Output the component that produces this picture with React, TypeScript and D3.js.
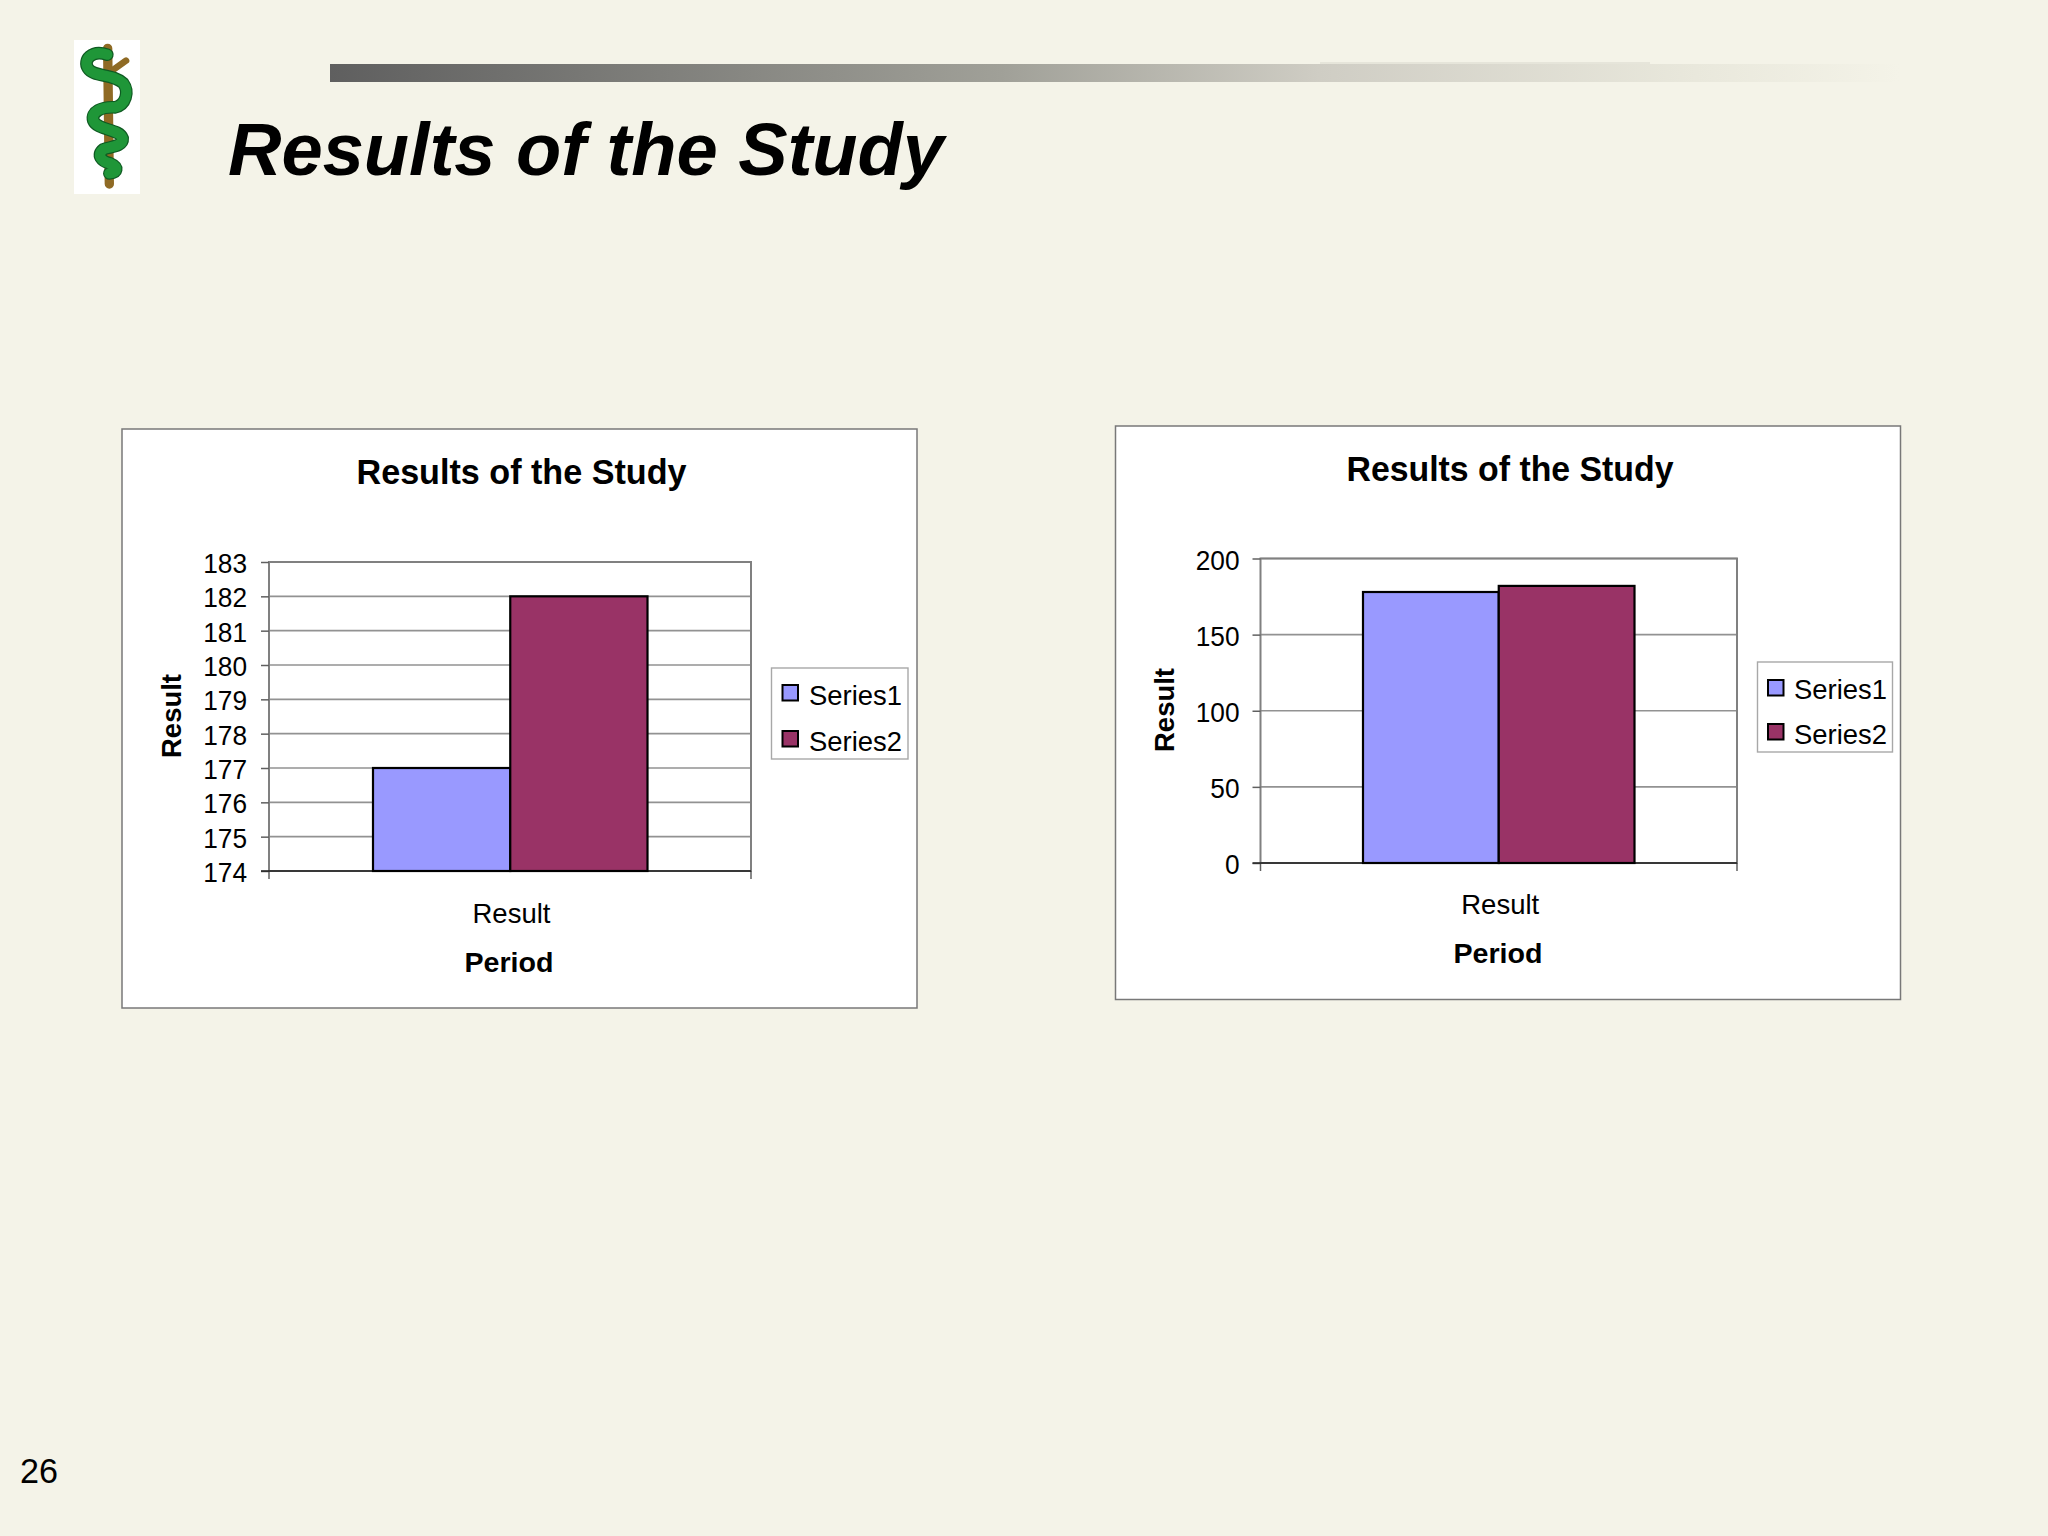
import * as d3 from "d3";
import React, { useEffect, useRef } from "react";

const seriesNames = ["Series1", "Series2"];
const seriesColors = ["#9999ff", "#993366"];
const categories = ["Result"];

const leftValues = [177, 182];
const leftTicks = [174, 175, 176, 177, 178, 179, 180, 181, 182, 183];

const rightValues = [178, 182];
const rightTicks = [0, 50, 100, 150, 200];

const slideTitle = "Results of the Study";
const chartTitle = "Results of the Study";
const xTitle = "Period";
const yTitle = "Result";
const pageNumber = "26";

const bgColor = "#f4f3e8";
const font = "'Liberation Sans', Arial, sans-serif";

// layout of the two embedded charts, in page pixels
const leftLayout = {
  box: [122, 429, 917, 1008],
  plot: [269, 562, 751, 871],
  barLeft: 373,
  barRight: 647.5,
  tickLabelX: 247,
  titleX: 521.5,
  titleY: 484,
  titleWidth: 330,
  yTitleX: 180.5,
  yTitleY: 716,
  catY: 922.5,
  xTitleX: 509,
  xTitleY: 972,
  legend: [771.5, 668, 908, 759],
  swatchX: 782.5,
  swatchY: [685, 731],
  legendTextX: 809,
  legendTextY: [705, 750.5],
};
const rightLayout = {
  box: [1115.5, 426, 1900.5, 999.5],
  plot: [1260.5, 558.5, 1737, 863],
  barLeft: 1363,
  barRight: 1634.5,
  tickLabelX: 1239.5,
  titleX: 1510,
  titleY: 481,
  titleWidth: 327,
  yTitleX: 1173.5,
  yTitleY: 710,
  catY: 914,
  xTitleX: 1498,
  xTitleY: 963,
  legend: [1757.5, 662, 1892.5, 752],
  swatchX: 1768,
  swatchY: [680, 724],
  legendTextX: 1794,
  legendTextY: [699, 743.5],
};

const drawChart = (root, values, ticks, layout) => {
  const g = root.append("g");
  const [bx0, by0, bx1, by1] = layout.box;
  const [px0, py0, px1, py1] = layout.plot;

  g.append("rect")
    .attr("x", bx0)
    .attr("y", by0)
    .attr("width", bx1 - bx0)
    .attr("height", by1 - by0)
    .attr("fill", "#ffffff")
    .attr("stroke", "#787878")
    .attr("stroke-width", 1.5);

  const y = d3
    .scaleLinear()
    .domain([ticks[0], ticks[ticks.length - 1]])
    .range([py1, py0]);

  const x = d3.scaleBand().domain(categories).range([px0, px1]);

  const inner = d3
    .scaleBand()
    .domain(seriesNames)
    .range([layout.barLeft, layout.barRight]);

  // gridlines
  g.append("g")
    .selectAll("line")
    .data(ticks)
    .join("line")
    .attr("x1", px0)
    .attr("x2", px1)
    .attr("y1", (d) => y(d))
    .attr("y2", (d) => y(d))
    .attr("stroke", "#929292")
    .attr("stroke-width", 1.7);

  // plot frame
  g.append("rect")
    .attr("x", px0)
    .attr("y", py0)
    .attr("width", px1 - px0)
    .attr("height", py1 - py0)
    .attr("fill", "none")
    .attr("stroke", "#808080")
    .attr("stroke-width", 2);

  // y axis
  const yAxis = g
    .append("g")
    .attr("transform", `translate(${px0}, 0)`)
    .call(
      d3
        .axisLeft(y)
        .tickValues(ticks)
        .tickSize(8)
        .tickFormat((d) => String(d))
    );
  yAxis.selectAll("path, line").attr("stroke", "#606060").attr("stroke-width", 1.5);
  yAxis.select(".domain").remove();
  yAxis
    .selectAll("text")
    .attr("x", layout.tickLabelX - px0)
    .attr("dy", "10.5px")
    .attr("font-family", font)
    .attr("font-size", 28)
    .attr("fill", "#000")
    .attr("lengthAdjust", "spacingAndGlyphs")
    .attr("textLength", (d) => String(d).length * 14.6);

  // x axis
  const xAxis = g
    .append("g")
    .attr("transform", `translate(0, ${py1})`)
    .call(d3.axisBottom(x).tickSize(0).tickFormat(""));
  xAxis.selectAll("text").remove();
  xAxis.select(".domain").remove();
  g.append("g")
    .selectAll("line")
    .data([px0, px1])
    .join("line")
    .attr("x1", (d) => d)
    .attr("x2", (d) => d)
    .attr("y1", py1)
    .attr("y2", py1 + 8)
    .attr("stroke", "#606060")
    .attr("stroke-width", 1.5);
  g.append("line")
    .attr("x1", px0 - 8)
    .attr("x2", px1)
    .attr("y1", py1)
    .attr("y2", py1)
    .attr("stroke", "#202020")
    .attr("stroke-width", 1.6);

  // bars
  g.append("g")
    .selectAll("rect")
    .data(values)
    .join("rect")
    .attr("x", (d, i) => inner(seriesNames[i]))
    .attr("y", (d) => y(d))
    .attr("width", inner.bandwidth())
    .attr("height", (d) => py1 - y(d))
    .attr("fill", (d, i) => seriesColors[i])
    .attr("stroke", "#000")
    .attr("stroke-width", 2.2);

  const label = (text, px, py, size, weight, width) =>
    g
      .append("text")
      .attr("x", px)
      .attr("y", py)
      .attr("text-anchor", "middle")
      .attr("font-family", font)
      .attr("font-size", size)
      .attr("font-weight", weight)
      .attr("fill", "#000")
      .attr("lengthAdjust", "spacingAndGlyphs")
      .attr("textLength", width)
      .text(text);

  label(chartTitle, layout.titleX, layout.titleY, 35, "bold", layout.titleWidth);
  label(categories[0], x(categories[0]) + x.bandwidth() / 2 + 1.5, layout.catY, 28, "normal", 78);
  label(xTitle, layout.xTitleX, layout.xTitleY, 28, "bold", 89);
  label(yTitle, 0, 0, 27.5, "bold", 84).attr(
    "transform",
    `translate(${layout.yTitleX}, ${layout.yTitleY}) rotate(-90)`
  );

  // legend
  const [lx0, ly0, lx1, ly1] = layout.legend;
  g.append("rect")
    .attr("x", lx0)
    .attr("y", ly0)
    .attr("width", lx1 - lx0)
    .attr("height", ly1 - ly0)
    .attr("fill", "#ffffff")
    .attr("stroke", "#a8a8a8")
    .attr("stroke-width", 1.4);
  const items = g
    .append("g")
    .selectAll("g")
    .data(seriesNames)
    .join("g");
  items
    .append("rect")
    .attr("x", layout.swatchX)
    .attr("y", (d, i) => layout.swatchY[i])
    .attr("width", 15.5)
    .attr("height", 15.5)
    .attr("fill", (d, i) => seriesColors[i])
    .attr("stroke", "#000")
    .attr("stroke-width", 2);
  items
    .append("text")
    .attr("x", layout.legendTextX)
    .attr("y", (d, i) => layout.legendTextY[i])
    .attr("font-family", font)
    .attr("font-size", 28)
    .attr("fill", "#000")
    .attr("lengthAdjust", "spacingAndGlyphs")
    .attr("textLength", 93)
    .text((d) => d);
};

const drawLogo = (root) => {
  const logo = root.append("g");
  logo
    .append("rect")
    .attr("x", 74)
    .attr("y", 40)
    .attr("width", 66)
    .attr("height", 154)
    .attr("fill", "#ffffff");

  const art = logo.append("g").attr("transform", "translate(60, 30) scale(0.3333)");
  const staff = "M143,55 L148,462";
  const branch = "M152,125 L198,92";
  const snake =
    "M142,74 C95,58 68,90 84,115 C100,142 160,130 190,160 C208,185 198,225 165,232 C125,230 92,245 100,272 C112,302 178,295 188,325 C190,350 150,350 130,358 C108,375 125,395 150,400 C178,412 172,428 148,430";

  art
    .append("path")
    .attr("d", staff)
    .attr("stroke", "#8f6a24")
    .attr("stroke-width", 28)
    .attr("stroke-linecap", "round");
  art
    .append("path")
    .attr("d", branch)
    .attr("stroke", "#8f6a24")
    .attr("stroke-width", 20)
    .attr("stroke-linecap", "round");
  art
    .append("path")
    .attr("d", snake)
    .attr("fill", "none")
    .attr("stroke", "#0f5a22")
    .attr("stroke-width", 38)
    .attr("stroke-linecap", "round");
  art
    .append("path")
    .attr("d", snake)
    .attr("fill", "none")
    .attr("stroke", "#1f9638")
    .attr("stroke-width", 31)
    .attr("stroke-linecap", "round");
};

const App = () => {
  const svgRef = useRef(null);

  useEffect(() => {
    const svg = d3.select(svgRef.current);
    svg.selectAll("*").remove();

    svg
      .append("rect")
      .attr("width", 2048)
      .attr("height", 1536)
      .attr("fill", bgColor);

    // header bar gradient
    const grad = svg
      .append("defs")
      .append("linearGradient")
      .attr("id", "headerFade")
      .attr("x1", 0)
      .attr("x2", 1);
    const stops = [
      [0, "#5f5f5f"],
      [0.427, "#a0a098"],
      [0.63, "#cfcdc4"],
      [0.87, "#e9e8dc"],
      [1, bgColor],
    ];
    grad
      .selectAll("stop")
      .data(stops)
      .join("stop")
      .attr("offset", (d) => d[0])
      .attr("stop-color", (d) => d[1]);
    svg
      .append("rect")
      .attr("x", 330)
      .attr("y", 64)
      .attr("width", 1570)
      .attr("height", 18)
      .attr("fill", "url(#headerFade)");
    // lighter step along the top edge of the faded end
    svg
      .append("rect")
      .attr("x", 1320)
      .attr("y", 62)
      .attr("width", 330)
      .attr("height", 2)
      .attr("fill", "#e6e5da");

    drawLogo(svg);

    svg
      .append("text")
      .attr("x", 228)
      .attr("y", 174.5)
      .attr("font-family", font)
      .attr("font-size", 75)
      .attr("font-weight", "bold")
      .attr("font-style", "italic")
      .attr("fill", "#000")
      .attr("lengthAdjust", "spacingAndGlyphs")
      .attr("textLength", 716)
      .text(slideTitle);

    drawChart(svg, leftValues, leftTicks, leftLayout);
    drawChart(svg, rightValues, rightTicks, rightLayout);

    svg
      .append("text")
      .attr("x", 20)
      .attr("y", 1483)
      .attr("font-family", font)
      .attr("font-size", 35)
      .attr("fill", "#000")
      .attr("lengthAdjust", "spacingAndGlyphs")
      .attr("textLength", 38)
      .text(pageNumber);
  }, []);

  return (
    <svg
      ref={svgRef}
      width={2048}
      height={1536}
      style={{ position: "absolute", left: 0, top: 0, display: "block" }}
    />
  );
};

export default App;
